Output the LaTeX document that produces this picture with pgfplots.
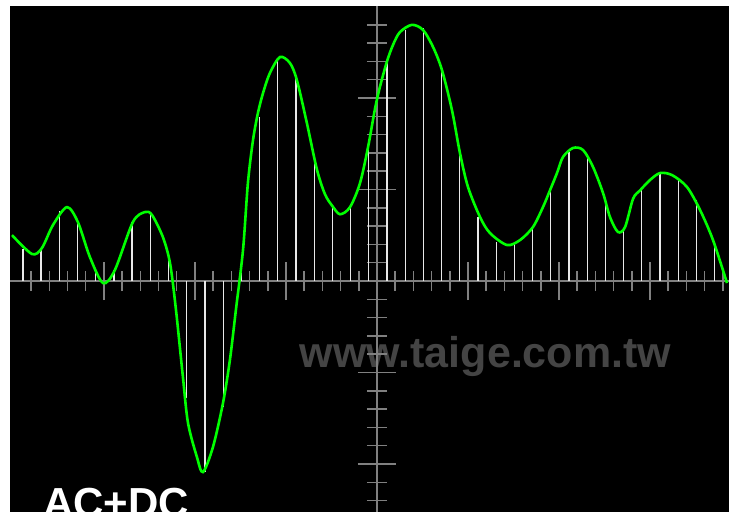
\documentclass[border=0pt]{standalone}
\usepackage{pgfplots}
\pgfplotsset{compat=1.18}
\usepackage{fontspec}
\setmainfont{Liberation Sans}
\definecolor{scopegreen}{RGB}{0,255,0}
\definecolor{axisgray}{RGB}{128,128,128}
\definecolor{stemwhite}{RGB}{232,232,232}
\definecolor{wmgray}{RGB}{68,68,68}
\begin{document}
\begin{tikzpicture}[x=1bp,y=1bp]
\fill[white] (-10,0) rectangle (719,512);
\fill[black] (0,0) rectangle (719,506);
\node[anchor=base, text=wmgray, font=\bfseries\fontsize{43bp}{43bp}\selectfont, inner sep=0pt] at (475.5,144) {www.taige.com.tw};
\begin{axis}[
  at={(0,0)}, anchor=south west,
  scale only axis, width=719bp, height=506bp,
  xmin=-20.16, xmax=19.34, ymin=-12.62, ymax=15.03,
  axis lines=middle,
  axis line style={-, draw=axisgray, line width=1.5bp},
  xtick={-15,-10,-5,5,10,15},
  ytick={-10,-5,5,10},
  minor xtick={-19,...,19},
  minor ytick={-12,...,14},
  xticklabel={}, yticklabel={},
  tick align=center,
  major tick length=38bp,
  minor tick length=20bp,
  tick style={draw=axisgray, line width=1.5bp},
  clip=true,
]
\addplot[ycomb, no marks, draw=stemwhite, line width=1.3bp] coordinates {
(-19.45,1.75) (-18.45,1.80) (-17.45,3.85) (-16.45,3.22) (-15.45,0.45)
(-14.45,0.60) (-13.45,3.22) (-12.45,3.60) (-11.45,1.20) (-10.45,-6.40)
(-9.45,-10.44) (-8.45,-6.90) (-7.45,1.00) (-6.45,8.96) (-5.45,12.19)
(-4.45,11.26) (-3.45,6.60) (-2.45,4.15) (-1.45,4.15) (-0.45,7.27)
(0.55,11.97) (1.55,13.72) (2.55,13.83) (3.55,11.53) (4.55,7.05)
(5.55,3.50) (6.55,2.13) (7.55,2.13) (8.55,2.95) (9.55,5.08)
(10.55,7.05) (11.55,6.89) (12.55,4.43) (13.55,2.79) (14.55,5.08)
(15.55,5.90) (16.55,5.63) (17.55,4.43) (18.55,1.86)
};
\addplot[smooth, no marks, draw=scopegreen, line width=2.6bp] coordinates {
(-20.05,2.51) (-18.96,1.48) (-18.41,1.80) (-17.80,3.06) (-17.03,4.04)
(-16.43,3.22) (-15.77,1.31) (-15.05,-0.11) (-14.40,0.60) (-13.41,3.22)
(-12.75,3.77) (-12.36,3.61) (-11.76,2.40) (-11.37,0.98) (-11.05,-1.50)
(-10.66,-5.25) (-10.38,-7.76) (-9.89,-9.62) (-9.56,-10.44) (-9.01,-9.07)
(-8.46,-6.67) (-8.08,-4.32) (-7.75,-1.58) (-7.36,1.69) (-7.09,5.36)
(-6.81,7.70) (-6.54,9.18) (-6.26,10.27) (-5.88,11.37) (-5.33,12.24)
(-4.78,11.91) (-4.40,10.98) (-3.85,8.63) (-3.30,6.10) (-2.86,4.75)
(-2.45,4.10) (-2.03,3.65) (-1.48,4.04) (-0.93,5.36) (-0.49,7.32) (-0.11,9.40)
(0.16,10.60) (0.55,12.00) (0.88,12.90) (1.26,13.60) (1.92,14.00)
(2.53,13.72) (3.08,12.79) (3.57,11.53) (4.12,9.34) (4.56,6.99)
(5.00,5.14) (5.66,3.50) (6.21,2.62) (7.14,1.97) (7.86,2.24)
(8.57,2.95) (9.12,4.04) (9.51,4.97) (9.89,5.90) (10.22,6.78)
(10.77,7.27) (11.32,7.16) (11.87,6.23) (12.42,4.81) (12.80,3.50)
(13.24,2.68) (13.63,2.95) (14.07,4.50) (14.45,4.95)
(15.00,5.52) (15.55,5.90) (16.21,5.79) (17.03,5.14) (17.75,3.88)
(18.46,2.24) (19.23,-0.11)
};
\end{axis}
\begin{scope}
\clip (-10,0) rectangle (719,512);
\node[anchor=base west, text=white, font=\bfseries\fontsize{42bp}{42bp}\selectfont, inner sep=0pt] at (33,-6) {AC+DC};
\end{scope}
\pgfresetboundingbox
\path[use as bounding box] (-10,0) rectangle (719,512);
\end{tikzpicture}
\end{document}
